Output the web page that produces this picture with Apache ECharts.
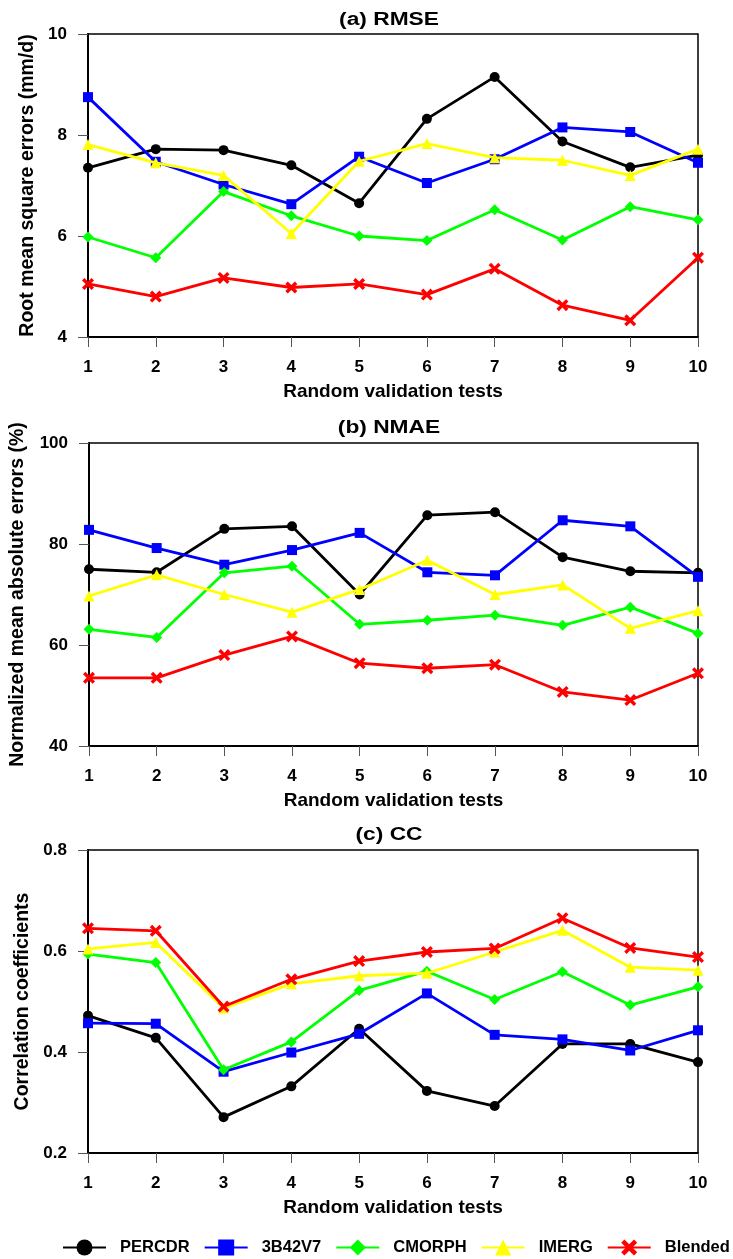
<!DOCTYPE html>
<html>
<head>
<meta charset="utf-8">
<script src="https://cdn.jsdelivr.net/npm/echarts@6/dist/echarts.min.js"></script>
<style>html,body{margin:0;padding:0;background:#fff;}#c{width:733px;height:1259px;}</style>
</head>
<body>
<div id="c"></div>
<script>
const categories = ['1','2','3','4','5','6','7','8','9','10'];
const seriesNames = ['PERCDR','3B42V7','CMORPH','IMERG','Blended'];

const rmsePERCDR  = [7.35, 7.72, 7.70, 7.40, 6.65, 8.32, 9.15, 7.87, 7.36, 7.60];
const rmse3B42V7  = [8.75, 7.47, 7.02, 6.63, 7.57, 7.05, 7.52, 8.15, 8.06, 7.45];
const rmseCMORPH  = [5.98, 5.57, 6.88, 6.40, 6.00, 5.91, 6.52, 5.92, 6.58, 6.32];
const rmseIMERG   = [7.81, 7.45, 7.20, 6.05, 7.48, 7.83, 7.55, 7.50, 7.20, 7.72];
const rmseBlended = [5.05, 4.80, 5.17, 4.98, 5.05, 4.84, 5.35, 4.63, 4.33, 5.57];

const nmaePERCDR  = [75.0, 74.4, 83.0, 83.5, 70.0, 85.7, 86.3, 77.4, 74.6, 74.3];
const nmae3B42V7  = [82.8, 79.2, 75.9, 78.8, 82.2, 74.4, 73.8, 84.7, 83.5, 73.5];
const nmaeCMORPH  = [63.1, 61.5, 74.3, 75.6, 64.1, 64.9, 65.9, 63.9, 67.5, 62.3];
const nmaeIMERG   = [69.7, 73.9, 70.0, 66.5, 71.0, 76.8, 70.0, 71.9, 63.3, 66.8];
const nmaeBlended = [53.5, 53.5, 58.0, 61.7, 56.4, 55.4, 56.1, 50.7, 49.1, 54.4];

const ccPERCDR  = [0.472, 0.428, 0.271, 0.332, 0.446, 0.323, 0.293, 0.416, 0.416, 0.380];
const cc3B42V7  = [0.457, 0.456, 0.361, 0.399, 0.436, 0.516, 0.434, 0.425, 0.403, 0.443];
const ccCMORPH  = [0.594, 0.577, 0.365, 0.420, 0.522, 0.560, 0.504, 0.559, 0.493, 0.529];
const ccIMERG   = [0.604, 0.617, 0.487, 0.535, 0.551, 0.556, 0.598, 0.641, 0.568, 0.562];
const ccBlended = [0.645, 0.640, 0.490, 0.544, 0.580, 0.598, 0.605, 0.665, 0.606, 0.588];

const panelTitles = ['(a) RMSE', '(b) NMAE', '(c) CC'];
const yNames = ['Root mean square errors (mm/d)', 'Normalized mean absolute errors (%)', 'Correlation coefficients'];
const xName = 'Random validation tests';
const yTicksRMSE = [4, 10, 2];
const yTicksNMAE = [40, 100, 20];
const yTicksCC = [0.2, 0.8, 0.2];

const panelData = [
  [rmsePERCDR, rmse3B42V7, rmseCMORPH, rmseIMERG, rmseBlended],
  [nmaePERCDR, nmae3B42V7, nmaeCMORPH, nmaeIMERG, nmaeBlended],
  [ccPERCDR, cc3B42V7, ccCMORPH, ccIMERG, ccBlended]
];
const yTicks = [yTicksRMSE, yTicksNMAE, yTicksCC];

const colors = ['#000000', '#0000ff', '#00ff00', '#ffff00', '#ff0000'];
const crossPath = 'path://M0,2 L2,0 L5,3 L8,0 L10,2 L7,5 L10,8 L8,10 L5,7 L2,10 L0,8 L3,5 Z';
const symbols = ['circle', 'rect', 'diamond', 'triangle', crossPath];
const symbolSizes = [10, 10, 11, 11, 12];

const FONT = '"Liberation Sans", Arial, sans-serif';

const grids = [
  {left: 88, right: 35, top: 34, height: 303},
  {left: 88, right: 35, top: 443, height: 303},
  {left: 88, right: 35, top: 850, height: 303}
];
const titleCenters = [20, 428, 835];
const yNameGaps = [50, 61, 54];
const fmt = [v => String(v), v => String(v), v => v.toFixed(1)];

const option = {
  animation: false,
  backgroundColor: '#fff',
  graphic: panelTitles.map((t, i) => ({
    type: 'text', x: 389, y: titleCenters[i], scaleX: 1.3,
    style: {text: t, fontFamily: FONT, fontWeight: 'bold', fontSize: 17.5, fill: '#000',
            align: 'center', verticalAlign: 'middle'}
  })),
  legend: {
    data: seriesNames,
    left: 57, top: 1234, width: 720, orient: 'horizontal',
    itemWidth: 43, itemHeight: 20, itemGap: 14,
    textStyle: {fontFamily: FONT, fontWeight: 'bold', fontSize: 16.5, color: '#000', padding: [0, 0, 0, 9]}
  },
  grid: grids.map(g => Object.assign({show: true, borderColor: '#000', borderWidth: 1.5, backgroundColor: 'transparent'}, g)),
  xAxis: grids.map((g, i) => ({
    type: 'category', gridIndex: i, data: categories, boundaryGap: false,
    name: xName, nameLocation: 'middle', nameGap: 45,
    nameTextStyle: {fontFamily: FONT, fontWeight: 'bold', fontSize: 19, color: '#000'},
    axisLine: {lineStyle: {color: '#000', width: 2}},
    axisTick: {show: true, length: 10, alignWithLabel: true, lineStyle: {color: '#555', width: 1}},
    axisLabel: {margin: 22, fontFamily: FONT, fontWeight: 'bold', fontSize: 17, color: '#000'},
    splitLine: {show: false}
  })),
  yAxis: grids.map((g, i) => ({
    type: 'value', gridIndex: i,
    min: yTicks[i][0], max: yTicks[i][1], interval: yTicks[i][2],
    name: yNames[i], nameLocation: 'middle', nameGap: yNameGaps[i], nameRotate: 90,
    nameTextStyle: {fontFamily: FONT, fontWeight: 'bold', fontSize: 19.5, color: '#000'},
    axisLine: {show: true, lineStyle: {color: '#000', width: 2}},
    axisTick: {show: true, length: 10, lineStyle: {color: '#555', width: 1}},
    axisLabel: {margin: 21, fontFamily: FONT, fontWeight: 'bold', fontSize: 17, color: '#000', formatter: fmt[i]},
    splitLine: {show: false}
  })),
  series: []
};

panelData.forEach((arrs, p) => {
  arrs.forEach((arr, s) => {
    option.series.push({
      type: 'line', name: seriesNames[s], xAxisIndex: p, yAxisIndex: p,
      data: arr, symbol: symbols[s], symbolSize: symbolSizes[s], showAllSymbol: true,
      itemStyle: {color: colors[s]},
      lineStyle: {color: colors[s], width: 2.8},
      z: 2 + s
    });
  });
});

const chart = echarts.init(document.getElementById('c'), null, {renderer: 'canvas'});
chart.setOption(option);
</script>
</body>
</html>
